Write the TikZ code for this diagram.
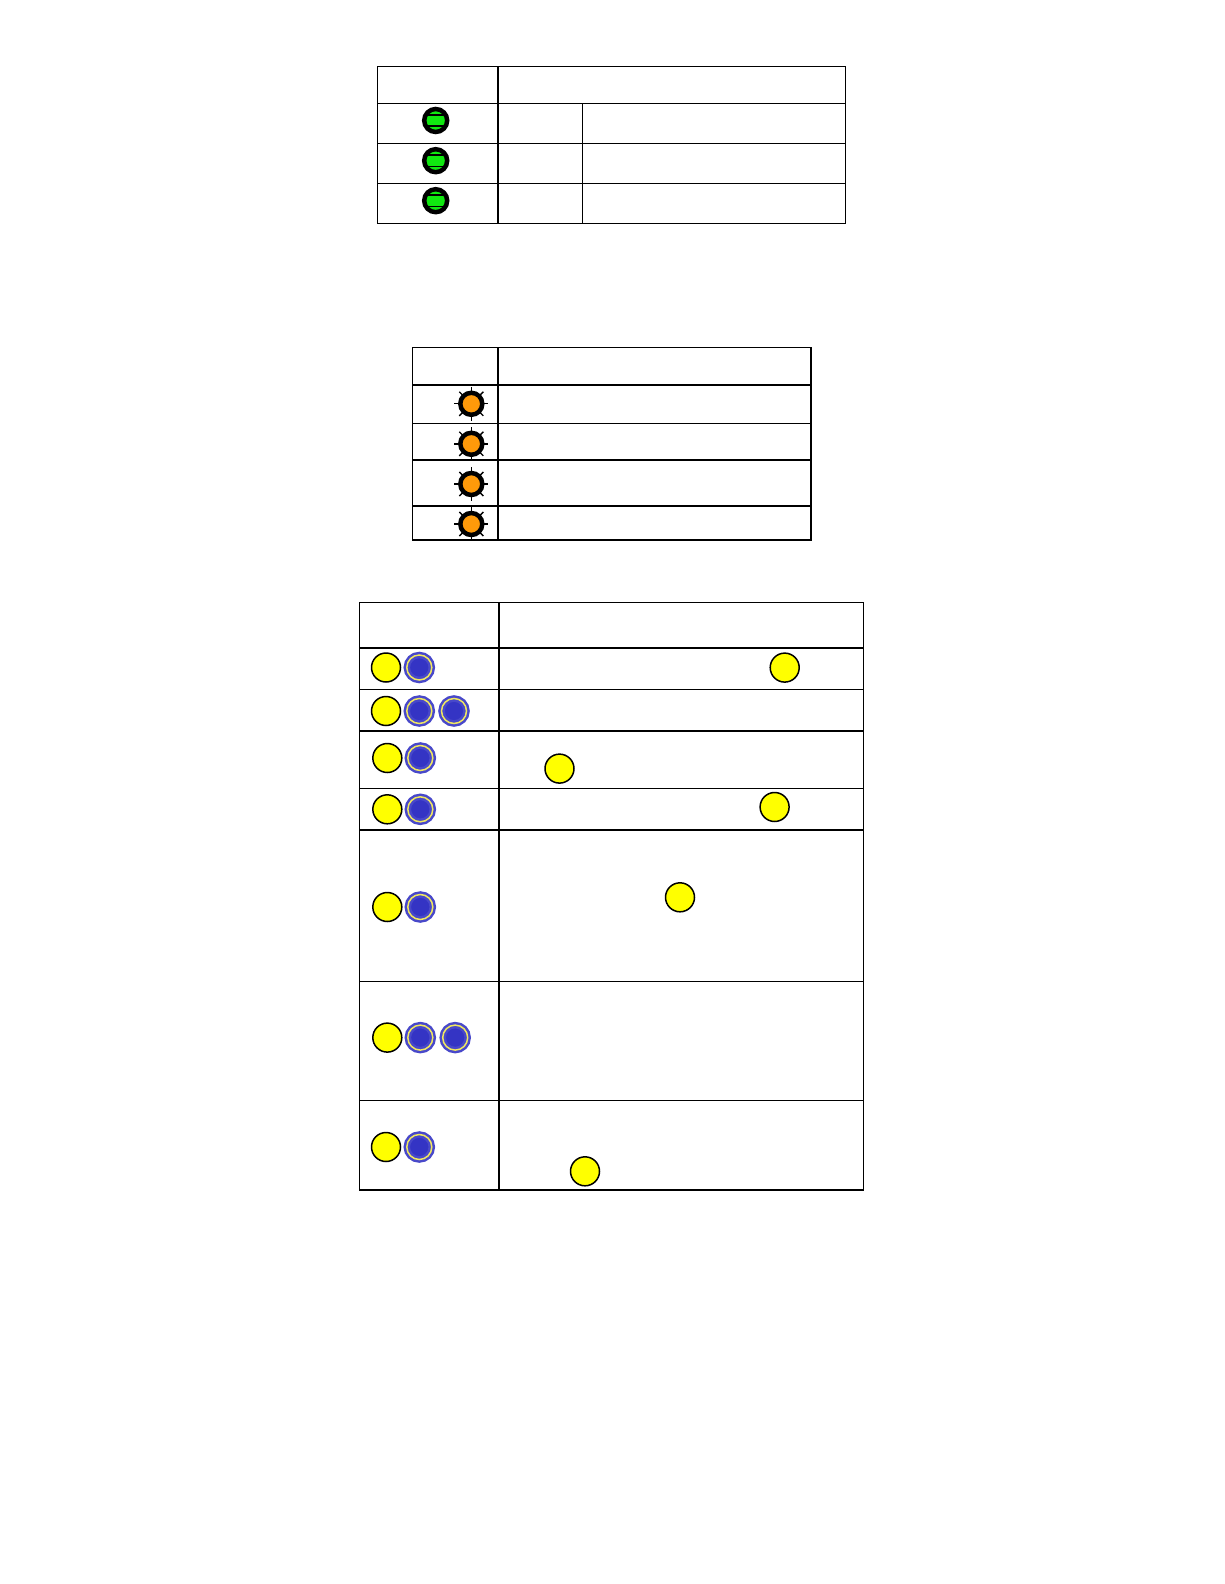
\documentclass[tikz,border=0pt]{standalone}
\usepackage{tikz}
\definecolor{ledgreen}{HTML}{10E810}
\definecolor{ledorange}{HTML}{FF9A0A}
\definecolor{dotyellow}{HTML}{FFFF00}
\definecolor{dotblue}{HTML}{3434C4}
\definecolor{ringyellow}{HTML}{F0E860}
\tikzset{thin line/.style={line width=0.02cm,draw=black}}
\tikzset{thick line/.style={line width=0.04cm,draw=black}}
\tikzset{led/.style={circle,draw=black,fill=ledgreen,line width=0.09cm,minimum size=0.46cm,inner sep=0pt,outer sep=0pt,
    path picture={\draw[line width=0.035cm] (-14,5.7)--(14,5.7) (-14,-5.7)--(14,-5.7);}}}
\tikzset{sun/.style={circle,draw=black,fill=ledorange,line width=0.09cm,minimum size=0.44cm,inner sep=0pt,outer sep=0pt}}
\tikzset{ydot/.style={circle,draw=black,fill=dotyellow,line width=0.03cm,minimum size=0.58cm,inner sep=0pt,outer sep=0pt}}
\tikzset{bdot/.style={circle,draw=dotblue!90!white,double=ringyellow,double distance=0.03cm,line width=0.05cm,fill=dotblue,minimum size=0.5cm,inner sep=0pt,outer sep=0pt}}
\begin{document}
\begin{tikzpicture}[x=0.02cm,y=-0.02cm]
\useasboundingbox (0,0) rectangle (1224,1584);

% first table
\draw[thin line] (377.5,66.8) rectangle (845,223.8);
\foreach \y in {103.5,143.5,183.5}
  \draw[thin line] (377.5,\y)--(845,\y);
\draw[thin line] (582,103.5)--(582,223.8);
\draw[thick line] (498,66.8)--(498,223.8);
\node[led] (g1) at (435.7,120.5){};
\node[led] (g2) at (435.7,160.7){};
\node[led] (g3) at (435.7,200.7){};

% second table
\draw[thin line] (412.5,347.3)--(811,347.3);
\draw[thin line] (412.5,347.3)--(412.5,539.7);
\draw[line width=0.03cm] (810.8,347.3)--(810.8,539.7);
\draw[thin line] (412.5,423.3)--(811,423.3);
\foreach \y in {385,460,506,539.7}
  \draw[thick line] (412,\y)--(811.5,\y);
\draw[thick line] (498.3,347.3)--(498.3,539.7);
\node[sun] (s1) at (471.3,403.8){};
\node[sun] (s2) at (471.3,443.8){};
\node[sun] (s3) at (471.3,484){};
\node[sun] (s4) at (471.3,524){};
\foreach \s in {s1,s2,s3,s4}
  \foreach \a in {0,45,...,315}
    \draw[line width=0.028cm] (\s.\a) -- ++(\a:0.12cm);

% third table
\draw[thin line] (359.3,602.7) rectangle (863.5,1190);
\foreach \y in {689.3,788.3,981,1100}
  \draw[thin line] (359.3,\y)--(863.5,\y);
\foreach \y in {647.7,731,829.5,1190}
  \draw[thick line] (359,\y)--(864,\y);
\draw[thick line] (498.7,602.7)--(498.7,1190);

% left column
\node[ydot] (a1) at (386,667.5){};
\node[bdot] (b1) at (419.3,667.5){};
\node[ydot] (a2) at (386,711){};
\node[bdot] (b2) at (419.3,711){};
\node[bdot] (c2) at (454,711){};
\node[ydot] (a3) at (387.3,758){};
\node[bdot] (b3) at (420.3,758){};
\node[ydot] (a4) at (387.3,809.3){};
\node[bdot] (b4) at (420.3,809.3){};
\node[ydot] (a5) at (387.3,907){};
\node[bdot] (b5) at (420.3,907){};
\node[ydot] (a6) at (387.3,1037.6){};
\node[bdot] (b6) at (420.3,1037.6){};
\node[bdot] (c6) at (455.2,1037.6){};
\node[ydot] (a7) at (386,1147){};
\node[bdot] (b7) at (419.3,1147){};

% right column
\node[ydot] (r1) at (784.7,667.6){};
\node[ydot] (r3) at (559.5,768.6){};
\node[ydot] (r4) at (774.6,807){};
\node[ydot] (r5) at (680,897.3){};
\node[ydot] (r7) at (585,1171.3){};
\end{tikzpicture}
\end{document}
